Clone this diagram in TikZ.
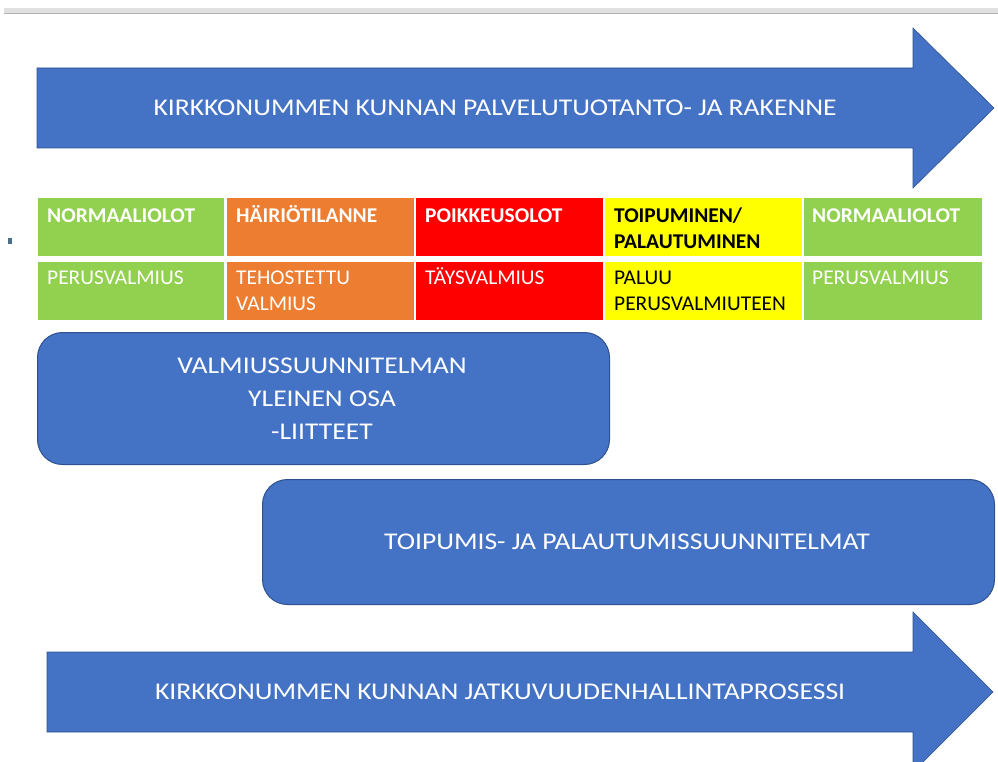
\documentclass[tikz,border=0pt]{standalone}
\usepackage{fontspec}
\setmainfont{Carlito}
\newfontfamily\widefont[FakeStretch=1.15]{Carlito}
\newfontfamily\cellfont[FakeStretch=1.02]{Carlito}
\definecolor{cblue}{HTML}{4472C4}
\definecolor{cblueedge}{HTML}{2F528F}
\definecolor{cgreen}{HTML}{92D050}
\definecolor{corange}{HTML}{ED7D31}
\definecolor{cred}{HTML}{FF0000}
\definecolor{cyellow}{HTML}{FFFF00}
\definecolor{cdot}{HTML}{4A6F8A}
\definecolor{cgrayline}{HTML}{E0E0E0}
\newcommand{\cellstrut}{\rule{0pt}{18pt}}
\tikzset{
  bigarrow/.style={fill=cblue, draw=cblueedge, line width=0.6pt},
  arrowtext/.style={text=white, font=\widefont\fontsize{24}{30}\selectfont, inner sep=0pt},
  planbox/.style={fill=cblue, draw=cblueedge, line width=1pt, rounded corners=25pt, anchor=north west, inner sep=0pt},
  boxtext/.style={text=white, font=\widefont\fontsize{24}{33}\selectfont, align=center, inner sep=0pt},
  cell/.style={draw=white, line width=1.5pt, anchor=north west, inner sep=0pt},
  hdtext/.style={anchor=north west, inner sep=0pt, align=left, font=\cellfont\bfseries\fontsize{21}{26}\selectfont},
  bodytext/.style={anchor=north west, inner sep=0pt, align=left, font=\cellfont\fontsize{21}{26}\selectfont},
}
\begin{document}
\begin{tikzpicture}[x=1pt, y=-1pt]
\useasboundingbox (0,0) rectangle (998,762);
\clip (0,0) rectangle (998,762);
% top gray line
\fill[cgrayline] (4,8) rectangle (998,14);
\fill[cgrayline!80!black] (4,13.5) rectangle (998,14.5);
% small dot
\fill[cdot] (8,238) rectangle (12,244);

% top arrow
\draw[bigarrow] (37,68) -- (913,68) -- (913,28) -- (994,108) -- (913,188) -- (913,148) -- (37,148) -- cycle;
\node[arrowtext] (toptext) at (495,108) {KIRKKONUMMEN KUNNAN PALVELUTUOTANTO- JA RAKENNE};

% table row 1
\node[cell, fill=cgreen,  minimum width=188pt, minimum height=59pt] (h1) at (36,197) {};
\node[cell, fill=corange, minimum width=189pt, minimum height=59pt] (h2) at (225,197) {};
\node[cell, fill=cred,    minimum width=189pt, minimum height=59pt] (h3) at (414,197) {};
\node[cell, fill=cyellow, minimum width=199pt, minimum height=59pt] (h4) at (603,197) {};
\node[cell, fill=cgreen,  minimum width=180pt, minimum height=59pt] (h5) at (802,197) {};
% table row 2
\node[cell, fill=cgreen,  minimum width=188pt, minimum height=60pt] (b1) at (36,260) {};
\node[cell, fill=corange, minimum width=189pt, minimum height=60pt] (b2) at (225,260) {};
\node[cell, fill=cred,    minimum width=189pt, minimum height=60pt] (b3) at (414,260) {};
\node[cell, fill=cyellow, minimum width=199pt, minimum height=60pt] (b4) at (603,260) {};
\node[cell, fill=cgreen,  minimum width=180pt, minimum height=60pt] (b5) at (802,260) {};

% header texts (baseline at 222)
\node[hdtext, text=white] (t1) at (47,204) {\cellstrut NORMAALIOLOT};
\node[hdtext, text=white] (t2) at (236,204) {\cellstrut HÄIRIÖTILANNE};
\node[hdtext, text=white] (t3) at (425,204) {\cellstrut POIKKEUSOLOT};
\node[hdtext, text=black] (t4) at (614,204) {\cellstrut TOIPUMINEN/\\PALAUTUMINEN};
\node[hdtext, text=white] (t5) at (812,204) {\cellstrut NORMAALIOLOT};
% body texts (baseline at 284)
\node[bodytext, text=white] (u1) at (47,266) {\cellstrut PERUSVALMIUS};
\node[bodytext, text=white] (u2) at (236,266) {\cellstrut TEHOSTETTU\\VALMIUS};
\node[bodytext, text=white] (u3) at (425,266) {\cellstrut TÄYSVALMIUS};
\node[bodytext, text=black] (u4) at (614,266) {\cellstrut PALUU\\PERUSVALMIUTEEN};
\node[bodytext, text=white] (u5) at (812,266) {\cellstrut PERUSVALMIUS};

% plan boxes
\node[planbox, minimum width=572pt, minimum height=132pt] (plan1) at (37,332) {};
\node[boxtext] (plan1text) at (322,399) {VALMIUSSUUNNITELMAN\\YLEINEN OSA\\-LIITTEET};
\node[planbox, minimum width=732pt, minimum height=125pt] (plan2) at (262,479) {};
\node[boxtext] (plan2text) at (627,542) {TOIPUMIS- JA PALAUTUMISSUUNNITELMAT};

% bottom arrow
\draw[bigarrow] (47,652) -- (913,652) -- (913,612) -- (993,692) -- (913,772) -- (913,732) -- (47,732) -- cycle;
\node[arrowtext] (bottext) at (500,692) {KIRKKONUMMEN KUNNAN JATKUVUUDENHALLINTAPROSESSI};
\end{tikzpicture}
\end{document}
